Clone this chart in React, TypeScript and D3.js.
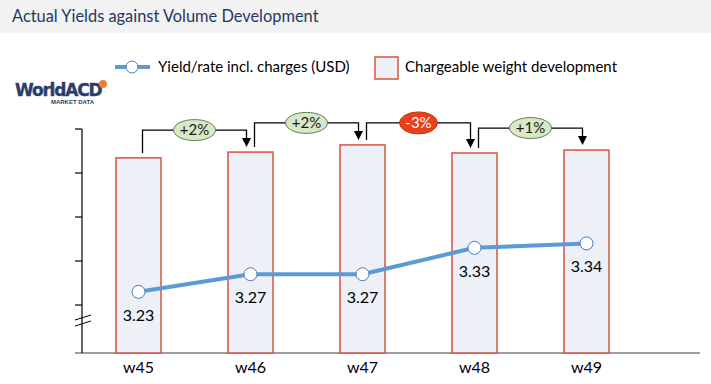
import React from 'react';
import * as d3 from 'd3';

const W = 711;
const H = 384;

const weeks = ['w45', 'w46', 'w47', 'w48', 'w49'];
const yields = [3.23, 3.27, 3.27, 3.33, 3.34];
// chargeable weight, index
const volumeIdx = [87.1, 89.7, 92.9, 89.3, 90.6];
const changes = ['+2%', '+2%', '-3%', '+1%'];
const axisTicks = [3.2, 3.3, 3.4, 3.5, 3.6];

const FONT = 'Lato, "Liberation Sans", Arial, sans-serif';
const LINE_COLOR = '#5b9bd5';
const BAR_FILL = '#eef0f8';
const BAR_STROKE = '#d9533c';
const NAVY = '#1f3864';

const BASE_Y = 353;
const TOP_Y = 129;
const BAR_W = 45;

export default function App() {
  const x = d3.scalePoint<string>().domain(weeks).range([138.5, 586.5]);
  const yLine = d3.scaleLinear().domain([3.091, 3.6]).range([BASE_Y, TOP_Y]);
  const yBar = d3.scaleLinear().domain([0, 100]).range([BASE_Y, TOP_Y]);

  const line = d3
    .line<number>()
    .x((_, i) => x(weeks[i])!)
    .y((d) => yLine(d));

  return (
    <svg width={W} height={H} style={{ display: 'block', fontFamily: FONT }}>
      <style>{`body{margin:0}`}</style>
      <rect x={0} y={0} width={W} height={H} fill="#fff" />

      {/* Header band */}
      <rect x={0} y={0} width={W} height={33} fill="#f2f2f2" />
      <text x={12} y={22} fontSize={16.4} fill={NAVY}>
        Actual Yields against Volume Development
      </text>

      {/* Logo */}
      <text
        x={15}
        y={96}
        fontSize={17}
        fontWeight={700}
        fill="#2b3d6b"
        fontFamily='"DejaVu Sans", sans-serif'
        letterSpacing={-1.2}
        stroke="#2b3d6b"
        strokeWidth={0.4}
      >
        WorldACD
      </text>
      <circle cx={103} cy={84} r={4} fill="#ef7d3c" />
      <text
        x={94}
        y={104}
        fontSize={6}
        fontWeight={700}
        fill="#2b3d6b"
        textAnchor="end"
        fontFamily='"Liberation Sans", Arial, sans-serif'
      >
        MARKET DATA
      </text>

      {/* Legend */}
      <line x1={115} x2={150} y1={67} y2={67} stroke={LINE_COLOR} strokeWidth={4} />
      <circle cx={132} cy={67} r={6} fill="#fff" stroke="#4a7ebb" strokeWidth={1} />
      <text x={158} y={72} fontSize={15} fill="#000">
        Yield/rate incl. charges (USD)
      </text>
      <rect x={375} y={57} width={23} height={22} fill={BAR_FILL} stroke={BAR_STROKE} strokeWidth={1.5} />
      <text x={405} y={72} fontSize={15} fill="#000">
        Chargeable weight development
      </text>

      {/* Baseline */}
      <line x1={75} x2={700} y1={BASE_Y} y2={BASE_Y} stroke="#7f7f7f" strokeWidth={1.5} />

      {/* Bars */}
      {volumeIdx.map((v, i) => (
        <rect
          key={weeks[i]}
          x={x(weeks[i])! - BAR_W / 2}
          y={yBar(v)}
          width={BAR_W}
          height={BASE_Y - yBar(v)}
          fill={BAR_FILL}
          stroke={BAR_STROKE}
          strokeWidth={1.5}
        />
      ))}

      {/* Y axis (no labels) with break */}
      <line x1={82} x2={82} y1={TOP_Y} y2={BASE_Y} stroke="#000" strokeWidth={1.2} />
      {axisTicks.map((t) => (
        <line key={t} x1={75} x2={82} y1={yLine(t)} y2={yLine(t)} stroke="#000" strokeWidth={1.2} />
      ))}
      <line x1={75} x2={91} y1={320} y2={315} stroke="#000" strokeWidth={1} />
      <line x1={75} x2={91} y1={326} y2={321} stroke="#000" strokeWidth={1} />

      {/* X labels */}
      {weeks.map((w) => (
        <text key={w} x={x(w)} y={373} fontSize={16} textAnchor="middle" fill="#000">
          {w}
        </text>
      ))}

      {/* Change brackets */}
      {changes.map((c, i) => {
        const x0 = x(weeks[i])! + 4;
        const x1 = x(weeks[i + 1])! - 4;
        const t0 = yBar(volumeIdx[i]);
        const t1 = yBar(volumeIdx[i + 1]);
        const level = Math.min(t0, t1) - 22;
        const tip = t1 - 5;
        const neg = c.startsWith('-');
        const mx = (x0 + x1) / 2;
        return (
          <g key={i}>
            <path
              d={`M${x0},${t0 - 5}V${level}H${x1}V${tip - 8}`}
              fill="none"
              stroke="#000"
              strokeWidth={1.3}
            />
            <path d={`M${x1 - 4.5},${tip - 9}L${x1 + 4.5},${tip - 9}L${x1},${tip}Z`} fill="#000" />
            <ellipse
              cx={mx}
              cy={level}
              rx={neg ? 19 : 21}
              ry={neg ? 11 : 10.5}
              fill={neg ? '#e8401c' : '#d7e9c6'}
              stroke={neg ? '#c0391b' : '#5f7f4f'}
              strokeWidth={1}
            />
            <text
              x={mx}
              y={level + 5}
              fontSize={15}
              textAnchor="middle"
              fill={neg ? '#fff' : '#1a1a1a'}
            >
              {c}
            </text>
          </g>
        );
      })}

      {/* Yield line */}
      <path d={line(yields) ?? ''} fill="none" stroke={LINE_COLOR} strokeWidth={4} strokeLinejoin="round" />
      {yields.map((v, i) => (
        <g key={weeks[i]}>
          <circle cx={x(weeks[i])} cy={yLine(v)} r={6.5} fill="#fff" stroke="#4a7ebb" strokeWidth={1} />
          <text x={x(weeks[i])} y={yLine(v) + 29} fontSize={16} textAnchor="middle" fill="#000">
            {v.toFixed(2)}
          </text>
        </g>
      ))}
    </svg>
  );
}
